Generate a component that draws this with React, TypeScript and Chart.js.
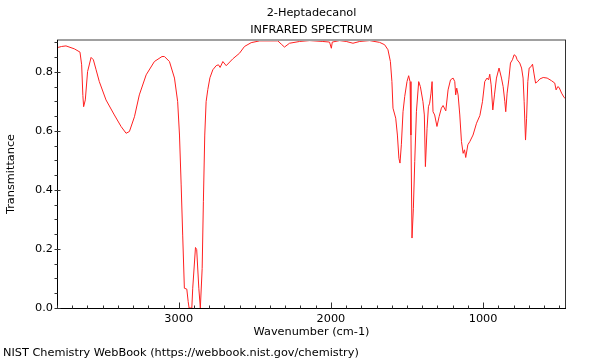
import React, { useEffect, useRef } from 'react';
import { Chart, registerables } from 'chart.js';

Chart.register(...registerables);

const FONT = '"DejaVu Sans", "Noto Sans", sans-serif';

const titleLines = ['2-Heptadecanol', 'INFRARED SPECTRUM'];
const xTitle = 'Wavenumber (cm-1)';
const yTitle = 'Transmittance';
const footerText = 'NIST Chemistry WebBook (https://webbook.nist.gov/chemistry)';

const xRange = [455, 3800];
const yRange = [0, 0.908];
const xTickValues = [3000, 2000, 1000];
const yTickValues = [0, 0.2, 0.4, 0.6, 0.8];

const wavenumbers = [
  3800, 3770, 3741, 3686, 3649, 3638, 3630, 3625, 3614, 3599, 3576, 3561, 3543, 3522, 3478, 3423,
  3379, 3346, 3324, 3291, 3259, 3214, 3160, 3110, 3094, 3061, 3028, 3007, 2995, 2984, 2974, 2963,
  2947, 2938, 2932, 2914, 2908, 2890, 2882, 2868, 2858, 2846, 2838, 2829, 2820, 2809, 2795, 2776,
  2754, 2739, 2728, 2710, 2688, 2645, 2601, 2568, 2524, 2469, 2349, 2326, 2305, 2272, 2206, 2140,
  2053, 2009, 1997, 1991, 1943, 1899, 1855, 1811, 1746, 1680, 1647, 1625, 1609, 1599, 1592, 1574,
  1563, 1553, 1546, 1537, 1526, 1515, 1500, 1489, 1480, 1474, 1467, 1458, 1449, 1438, 1423, 1412,
  1395, 1386, 1379, 1368, 1359, 1351, 1342, 1335, 1329, 1318, 1303, 1289, 1274, 1263, 1245, 1230,
  1214, 1197, 1186, 1180, 1173, 1164, 1153, 1142, 1131, 1122, 1114, 1100, 1087, 1066, 1043, 1021,
  1004, 989, 974, 964, 956, 947, 936, 925, 912, 895, 879, 868, 857, 851, 842, 831,
  820, 807, 796, 785, 776, 759, 747, 737, 730, 721, 714, 706, 697, 684, 675, 666,
  655, 642, 627, 605, 579, 550, 529, 520, 509, 500, 484, 467, 455,
];

const transmittance = [
  0.882, 0.886, 0.888, 0.878, 0.867, 0.824, 0.72, 0.682, 0.705, 0.801, 0.849, 0.841, 0.807, 0.767, 0.705, 0.654,
  0.615, 0.592, 0.598, 0.648, 0.722, 0.79, 0.835, 0.852, 0.852, 0.835, 0.779, 0.699, 0.586, 0.417, 0.247, 0.067,
  0.064, 0.022, 0.0, 0.0, 0.067, 0.205, 0.198, 0.067, 0.0, 0.134, 0.36, 0.586, 0.699, 0.74, 0.78, 0.807,
  0.821, 0.824, 0.815, 0.835, 0.821, 0.844, 0.863, 0.886, 0.899, 0.905, 0.905, 0.894, 0.884, 0.897, 0.903, 0.906,
  0.903, 0.901, 0.88, 0.901, 0.906, 0.903, 0.897, 0.903, 0.906, 0.9, 0.892, 0.875, 0.835, 0.767, 0.677, 0.643,
  0.586, 0.507, 0.491, 0.553, 0.665, 0.716, 0.767, 0.787, 0.767, 0.586, 0.237, 0.338, 0.496, 0.665, 0.767, 0.75,
  0.699, 0.654, 0.479, 0.609, 0.682, 0.694, 0.728, 0.767, 0.665, 0.654, 0.615, 0.648, 0.677, 0.686, 0.668, 0.739,
  0.773, 0.779, 0.767, 0.722, 0.745, 0.722, 0.654, 0.564, 0.524, 0.536, 0.51, 0.553, 0.564, 0.586, 0.626, 0.652,
  0.699, 0.767, 0.779, 0.773, 0.792, 0.756, 0.671, 0.722, 0.779, 0.813, 0.779, 0.75, 0.699, 0.665, 0.728, 0.773,
  0.83, 0.841, 0.858, 0.854, 0.841, 0.83, 0.813, 0.779, 0.699, 0.569, 0.643, 0.767, 0.813, 0.818, 0.826, 0.796,
  0.762, 0.767, 0.776, 0.781, 0.779, 0.77, 0.762, 0.739, 0.75, 0.747, 0.728, 0.713, 0.708,
];

const framePlugin = {
  id: 'nistFrame',
  afterDraw(chart: any) {
    const { ctx, chartArea: a, scales } = chart;
    const xs = scales.x;
    const ys = scales.y;
    ctx.save();
    // top border (gray, thick)
    ctx.strokeStyle = '#a0a0a0';
    ctx.lineWidth = 2;
    ctx.beginPath();
    ctx.moveTo(a.left, a.top);
    ctx.lineTo(a.right, a.top);
    ctx.stroke();
    // right border
    ctx.strokeStyle = '#333';
    ctx.lineWidth = 1;
    ctx.beginPath();
    ctx.moveTo(Math.round(a.right) - 0.5, a.top);
    ctx.lineTo(Math.round(a.right) - 0.5, a.bottom);
    ctx.stroke();
    // left and bottom axes
    ctx.strokeStyle = '#000';
    ctx.beginPath();
    const lx = Math.round(a.left) + 0.5;
    const by = Math.round(a.bottom) + 0.5;
    ctx.moveTo(lx, a.top);
    ctx.lineTo(lx, by);
    ctx.lineTo(a.right, by);
    ctx.stroke();
    // x ticks (inside)
    ctx.strokeStyle = '#333';
    ctx.beginPath();
    for (let v = 500; v <= xRange[1]; v += 100) {
      const px = Math.round(xs.getPixelForValue(v)) + 0.5;
      const len = v % 1000 === 0 ? 6 : 3;
      ctx.moveTo(px, by);
      ctx.lineTo(px, by - len);
    }
    // y ticks
    for (let i = 0; i * 0.05 <= yRange[1] + 1e-9; i++) {
      const py = Math.round(ys.getPixelForValue(i * 0.05)) + 0.5;
      if (i % 4 === 0) {
        ctx.moveTo(lx - 3, py);
        ctx.lineTo(lx + 3, py);
      } else {
        ctx.moveTo(lx - 3, py);
        ctx.lineTo(lx, py);
      }
    }
    ctx.stroke();
    // titles
    ctx.fillStyle = '#000';
    ctx.textAlign = 'center';
    ctx.textBaseline = 'middle';
    ctx.font = `11.3px ${FONT}`;
    const cx = (a.left + a.right) / 2;
    ctx.fillText(titleLines[0], cx, 13);
    ctx.fillText(titleLines[1], cx, 30);
    // footer
    ctx.textAlign = 'left';
    ctx.font = `11.3px ${FONT}`;
    ctx.fillText(footerText, 3, 353);
    ctx.restore();
  },
};

export default function App() {
  const ref = useRef<HTMLCanvasElement>(null);
  useEffect(() => {
    const points = wavenumbers.map((w, i) => ({ x: w, y: transmittance[i] }));
    const tickFont = { family: FONT, size: 11.3 };
    const chart = new Chart(ref.current as HTMLCanvasElement, {
      type: 'line',
      data: {
        datasets: [
          {
            data: points,
            borderColor: '#ff2020',
            borderWidth: 1,
            pointRadius: 0,
            tension: 0,
            fill: false,
          },
        ],
      },
      options: {
        animation: false,
        responsive: false,
        maintainAspectRatio: false,
        devicePixelRatio: 1,
        layout: { padding: { left: 0, top: 40, right: 34, bottom: 0 } },
        plugins: {
          legend: { display: false },
          tooltip: { enabled: false },
          title: { display: false },
        },
        scales: {
          x: {
            type: 'linear',
            reverse: true,
            min: xRange[0],
            max: xRange[1],
            afterBuildTicks: (s: any) => {
              s.ticks = xTickValues.map((v) => ({ value: v }));
            },
            afterFit: (s: any) => {
              s.height = 52;
            },
            grid: { display: false, drawTicks: false, tickLength: 0 },
            border: { display: false },
            ticks: {
              autoSkip: false,
              maxRotation: 0,
              padding: 4,
              color: '#000',
              font: tickFont,
              callback: (v: any) => String(v),
            },
            title: {
              display: true,
              text: xTitle,
              color: '#000',
              font: tickFont,
              padding: { top: 0, bottom: 21 },
            },
          },
          y: {
            type: 'linear',
            min: yRange[0],
            max: yRange[1],
            afterBuildTicks: (s: any) => {
              s.ticks = yTickValues.map((v) => ({ value: v }));
            },
            afterFit: (s: any) => {
              s.width = 57;
            },
            grid: { display: false, drawTicks: false, tickLength: 0 },
            border: { display: false },
            ticks: {
              padding: 4,
              color: '#000',
              font: tickFont,
              callback: (v: any) => Number(v).toFixed(1),
            },
            title: {
              display: true,
              text: yTitle,
              color: '#000',
              font: tickFont,
              padding: { top: 4, bottom: 0 },
            },
          },
        },
      } as any,
      plugins: [framePlugin],
    });
    return () => chart.destroy();
  }, []);
  return (
    <div style={{ position: 'fixed', left: 0, top: 0, width: 600, height: 360, background: '#fff' }}>
      <canvas ref={ref} width={600} height={360} style={{ display: 'block', width: 600, height: 360 }} />
    </div>
  );
}
